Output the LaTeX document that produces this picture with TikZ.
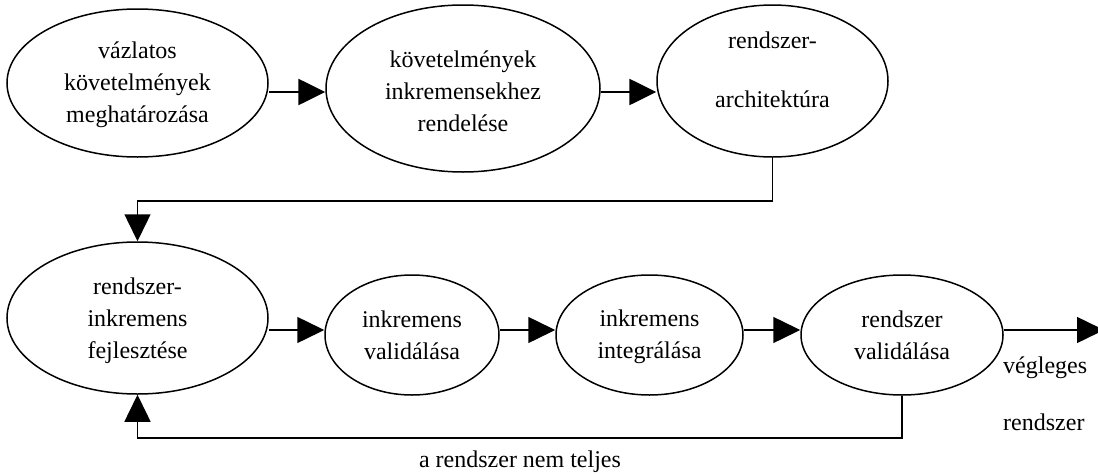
\documentclass[tikz,border=0pt]{standalone}
\usepackage{fontspec}
\setmainfont{Liberation Serif}
\usetikzlibrary{arrows.meta,shapes.geometric}
\begin{document}
\begin{tikzpicture}[x=1pt,y=-1pt,
  stage/.style={draw, ellipse, line width=1.5pt, inner sep=0pt, align=center,
                font=\fontsize{24}{32}\selectfont},
  lbl/.style={inner sep=0pt, font=\fontsize{24}{32}\selectfont},
  flow/.style={line width=1.5pt, -{Triangle[length=27pt,width=26pt]}},
  boldflow/.style={line width=2.7pt, -{Triangle[length=27pt,width=26pt]}}]
  % page frame
  \useasboundingbox (0,0) rectangle (1098,474);
  \fill[white] (0,0) rectangle (1098,474);

  % helper levels for the connectors
  \coordinate (r1) at (0,92);
  \coordinate (r2) at (0,330);
  \coordinate (ytop) at (0,201);
  \coordinate (ybot) at (0,438);
  \coordinate (out) at (1104,330);

  % first row (struts set the vertical position of the text)
  \node[stage, minimum width=261pt, minimum height=148pt] (e1) at (137.5,83)
    {\rule{0pt}{20pt}vázlatos\\követelmények\\meghatározása};
  \node[stage, minimum width=274pt, minimum height=167pt] (e2) at (463,88.5)
    {\rule{0pt}{23pt}követelmények\\inkremensekhez\\rendelése};
  \node[stage, minimum width=231pt, minimum height=152pt] (e3) at (772.5,81)
    {rendszer-\\[27pt]architektúra\rule[-22pt]{0pt}{22pt}};

  % second row
  \node[stage, minimum width=261pt, minimum height=152pt] (e4) at (137.5,318)
    {\rule{0pt}{23pt}rendszer-\\inkremens\\fejlesztése};
  \node[stage, minimum width=174pt, minimum height=120pt] (e5) at (412,335)
    {inkremens\\validálása};
  \node[stage, minimum width=187pt, minimum height=120pt] (e6) at (649.5,335)
    {\rule{0pt}{20.5pt}inkremens\\integrálása};
  \node[stage, minimum width=202pt, minimum height=120pt] (e7) at (902,335)
    {rendszer\\validálása};

  % labels
  \node[lbl, anchor=west] (vg) at (1003,368) {végleges};
  \node[lbl, anchor=west] (vr) at (1003,422) {rendszer};
  \node[lbl] (nt) at (520,462) {a rendszer nem teljes};

  % connectors
  \draw[boldflow] (e1.east |- r1) -- (e2.west |- r1);
  \draw[boldflow] (e2.east |- r1) -- (e3.west |- r1);
  \draw[flow] (e3.south) -- (e3.south |- ytop) -| (e4.north);
  \draw[flow] (e4.east |- r2) -- (e5.west |- r2);
  \draw[flow] (e5.east |- r2) -- (e6.west |- r2);
  \draw[flow] (e6.east |- r2) -- (e7.west |- r2);
  \draw[flow] (e7.east |- r2) -- (out);
  \draw[flow] (e7.south) -- (e7.south |- ybot) -| (e4.south);
\end{tikzpicture}
\end{document}
